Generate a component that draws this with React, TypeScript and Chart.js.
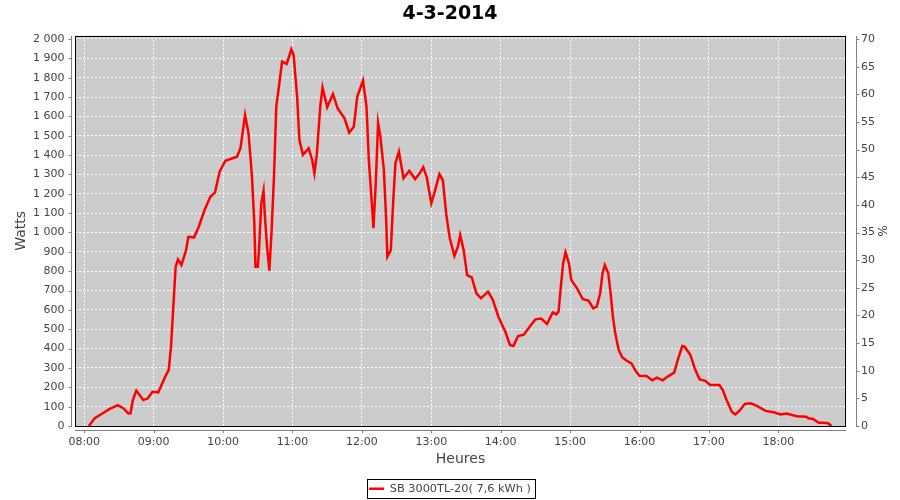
import React, { useEffect, useRef } from 'react';
import { Chart, registerables } from 'chart.js';

Chart.register(...registerables);

const chartTitle = '4-3-2014';
const seriesLabel = 'SB 3000TL-20( 7,6 kWh )';
const xAxisTitle = 'Heures';
const yAxisTitle = 'Watts';
const y2AxisTitle = '%';

const times = [
  '08:04', '08:09', '08:15', '08:22', '08:29', '08:34', '08:38', '08:40', '08:42', '08:45',
  '08:51', '08:55', '08:59', '09:04', '09:10', '09:13', '09:15', '09:17', '09:19', '09:21',
  '09:24', '09:28', '09:30', '09:35', '09:39', '09:44', '09:49', '09:53', '09:57', '10:02',
  '10:12', '10:15', '10:19', '10:22', '10:25', '10:27', '10:28', '10:30', '10:31', '10:33',
  '10:35', '10:36', '10:38', '10:40', '10:42', '10:44', '10:46', '10:49', '10:51', '10:55',
  '10:59', '11:01', '11:04', '11:06', '11:09', '11:14', '11:17', '11:19', '11:21', '11:24',
  '11:26', '11:30', '11:35', '11:39', '11:45', '11:49', '11:53', '11:56', '12:01', '12:04',
  '12:06', '12:09', '12:10', '12:12', '12:14', '12:16', '12:19', '12:21', '12:22', '12:25',
  '12:27', '12:29', '12:32', '12:36', '12:41', '12:46', '12:50', '12:53', '12:56', '13:00',
  '13:03', '13:07', '13:10', '13:13', '13:16', '13:20', '13:23', '13:25', '13:28', '13:31',
  '13:35', '13:39', '13:43', '13:49', '13:53', '13:58', '14:04', '14:08', '14:11', '14:15',
  '14:20', '14:25', '14:30', '14:35', '14:40', '14:45', '14:48', '14:50', '14:52', '14:54',
  '14:56', '14:59', '15:01', '15:06', '15:11', '15:16', '15:20', '15:23', '15:26', '15:28',
  '15:30', '15:33', '15:35', '15:37', '15:39', '15:42', '15:45', '15:49', '15:53', '15:57',
  '16:00', '16:06', '16:11', '16:15', '16:20', '16:25', '16:30', '16:33', '16:37', '16:39',
  '16:44', '16:48', '16:52', '16:57', '17:01', '17:09', '17:12', '17:15', '17:20', '17:23',
  '17:27', '17:31', '17:36', '17:41', '17:49', '17:56', '18:02', '18:07', '18:16', '18:24',
  '18:26', '18:30', '18:35', '18:39', '18:43', '18:46',
];

const watts = [
  0, 40, 62, 88, 108, 91, 65, 66, 134, 183,
  134, 143, 177, 174, 255, 289, 410, 617, 823, 861,
  832, 909, 978, 975, 1030, 1116, 1185, 1206, 1314, 1371,
  1392, 1435, 1607, 1513, 1288, 1047, 823, 823, 901, 1151,
  1216, 1099, 927, 803, 1013, 1288, 1650, 1788, 1883, 1871,
  1947, 1917, 1702, 1478, 1401, 1435, 1375, 1306, 1401, 1650,
  1750, 1647, 1716, 1642, 1590, 1516, 1547, 1702, 1785, 1650,
  1375, 1116, 1022, 1254, 1567, 1495, 1323, 1065, 875, 909,
  1151, 1358, 1418, 1280, 1319, 1276, 1306, 1337, 1288, 1151,
  1211, 1302, 1271, 1090, 970, 879, 927, 987, 909, 780,
  768, 686, 660, 694, 655, 565, 487, 419, 413, 465,
  472, 513, 551, 555, 527, 587, 577, 591, 720, 841,
  898, 841, 755, 711, 655, 648, 608, 617, 686, 789,
  832, 789, 686, 565, 479, 393, 355, 337, 324, 281,
  260, 258, 236, 250, 236, 258, 276, 341, 413, 410,
  367, 293, 241, 233, 212, 212, 186, 138, 71, 60,
  83, 114, 117, 105, 78, 71, 60, 65, 50, 48,
  40, 36, 17, 17, 14, 0,
];

const xTickLabels = ['08:00', '09:00', '10:00', '11:00', '12:00', '13:00', '14:00', '15:00', '16:00', '17:00', '18:00'];
const yTickValues = [0, 100, 200, 300, 400, 500, 600, 700, 800, 900, 1000, 1100, 1200, 1300, 1400, 1500, 1600, 1700, 1800, 1900, 2000];
const yTickLabels = ['0', '100', '200', '300', '400', '500', '600', '700', '800', '900', '1 000', '1 100', '1 200', '1 300', '1 400', '1 500', '1 600', '1 700', '1 800', '1 900', '2 000'];
const pctTickValues = [0, 5, 10, 15, 20, 25, 30, 35, 40, 45, 50, 55, 60, 65, 70];
const pctTickLabels = ['0', '5', '10', '15', '20', '25', '30', '35', '40', '45', '50', '55', '60', '65', '70'];

const xMin = '07:52';
const xMax = '18:58.5';
const yMax = 2017;
const y2Max = 70.6;

const toMin = (t: string) => {
  const [h, m] = t.split(':');
  return Number(h) * 60 + Number(m);
};

const GRAY = '#808080';
const TEXT = '#444444';

const framePlugin = {
  id: 'frame',
  afterLayout(chart: any) {
    const lg = chart.legend;
    if (lg) {
      lg.top += 4.5;
      lg.bottom += 4.5;
    }
  },
  beforeDraw(chart: any) {
    const { ctx, chartArea } = chart;
    ctx.save();
    ctx.fillStyle = '#cccccc';
    ctx.fillRect(chartArea.left, chartArea.top, chartArea.right - chartArea.left, chartArea.bottom - chartArea.top);
    ctx.restore();
  },
  afterDraw(chart: any) {
    const { ctx, chartArea } = chart;
    const L = Math.round(chartArea.left);
    const R = Math.round(chartArea.right);
    const T = Math.round(chartArea.top);
    const B = Math.round(chartArea.bottom);
    ctx.save();
    ctx.lineWidth = 1;
    ctx.strokeStyle = '#000000';
    ctx.strokeRect(L + 0.5, T + 0.5, R - L - 1, B - T);

    ctx.strokeStyle = GRAY;
    const lx = L - 3.5;
    ctx.beginPath();
    ctx.moveTo(lx, T);
    ctx.lineTo(lx, B + 1);
    const ys = chart.scales.y;
    ys.ticks.forEach((t: any) => {
      const py = Math.round(ys.getPixelForValue(t.value)) + 0.5;
      ctx.moveTo(lx - 3, py);
      ctx.lineTo(lx, py);
    });
    const rx = R + 10.5;
    ctx.moveTo(rx, T);
    ctx.lineTo(rx, B + 1);
    const y2 = chart.scales.y2;
    y2.ticks.forEach((t: any) => {
      const py = Math.round(y2.getPixelForValue(t.value)) + 0.5;
      ctx.moveTo(rx, py);
      ctx.lineTo(rx + 3, py);
    });
    const by = B + 4.5;
    ctx.moveTo(L, by);
    ctx.lineTo(R, by);
    const xs = chart.scales.x;
    xs.ticks.forEach((t: any) => {
      const px = Math.round(xs.getPixelForValue(t.value)) + 0.5;
      ctx.moveTo(px, by);
      ctx.lineTo(px, by + 2.5);
    });
    ctx.stroke();

    const lg = chart.legend;
    if (lg && lg.legendHitBoxes && lg.legendHitBoxes[0]) {
      const hb = lg.legendHitBoxes[0];
      const cy = hb.top + hb.height / 2;
      const x0 = Math.round(hb.left - 2.5) + 0.5;
      const x1 = Math.round(hb.left + hb.width + 4.5) + 0.5;
      const y0 = Math.round(cy - 10) + 0.5;
      ctx.strokeStyle = '#000000';
      ctx.strokeRect(x0, y0, x1 - x0, 19);
    }
    ctx.restore();
  },
};

export default function App() {
  const ref = useRef<HTMLCanvasElement | null>(null);

  useEffect(() => {
    if (!ref.current) return;
    Chart.defaults.font.family = "'DejaVu Sans', sans-serif";
    const points = times.map((t, i) => ({ x: toMin(t), y: watts[i] }));
    const chart = new Chart(ref.current, {
      type: 'line',
      data: {
        datasets: [
          {
            label: seriesLabel,
            data: points,
            borderColor: '#ff0000',
            backgroundColor: '#ff0000',
            borderWidth: 2.5,
            pointRadius: 0,
            tension: 0,
            fill: false,
            yAxisID: 'y',
          },
        ],
      },
      options: {
        responsive: false,
        animation: false,
        layout: { padding: 0 },
        plugins: {
          tooltip: { enabled: false },
          title: {
            display: true,
            text: chartTitle,
            color: '#000000',
            font: { size: 19, weight: 'bold' },
            padding: { top: 2.4, bottom: 10.5 },
          },
          legend: {
            display: true,
            position: 'bottom',
            labels: {
              usePointStyle: true,
              pointStyle: 'line',
              pointStyleWidth: 15,
              padding: 0,
              color: TEXT,
              font: { size: 11.3 },
            },
          },
        },
        scales: {
          x: {
            type: 'linear',
            min: toMin(xMin),
            max: toMin(xMax),
            afterBuildTicks: (s: any) => {
              s.ticks = xTickLabels.map((l) => ({ value: toMin(l) }));
            },
            afterFit: (s: any) => {
              const lh = s.chart.legend ? s.chart.legend.height : 21;
              s.height = 500 - 426 - lh;
            },
            ticks: {
              autoSkip: false,
              maxRotation: 0,
              padding: 10,
              color: TEXT,
              font: { size: 11 },
              callback: (v: any) => {
                const i = xTickLabels.findIndex((l) => toMin(l) === v);
                return i >= 0 ? xTickLabels[i] : '';
              },
            },
            grid: { color: '#ffffff', lineWidth: 1, drawTicks: false },
            border: { display: false, dash: [2, 2] },
            title: {
              display: true,
              text: xAxisTitle,
              color: TEXT,
              font: { size: 14 },
              padding: { top: 0, bottom: 10.6 },
            },
          },
          y: {
            type: 'linear',
            position: 'left',
            min: 0,
            max: yMax,
            afterBuildTicks: (s: any) => {
              s.ticks = yTickValues.map((v) => ({ value: v }));
            },
            afterFit: (s: any) => {
              s.width = 75;
            },
            ticks: {
              autoSkip: false,
              padding: 10.5,
              color: TEXT,
              font: { size: 11 },
              callback: (v: any) => {
                const i = yTickValues.indexOf(v);
                return i >= 0 ? yTickLabels[i] : '';
              },
            },
            grid: { color: '#ffffff', lineWidth: 1, drawTicks: false },
            border: { display: false, dash: [2, 2] },
            title: {
              display: true,
              text: yAxisTitle,
              color: TEXT,
              font: { size: 14 },
              padding: { top: 12.6, bottom: 0 },
            },
          },
          y2: {
            type: 'linear',
            position: 'right',
            min: 0,
            max: y2Max,
            afterBuildTicks: (s: any) => {
              s.ticks = pctTickValues.map((v) => ({ value: v }));
            },
            afterFit: (s: any) => {
              s.width = 54;
            },
            ticks: {
              autoSkip: false,
              padding: 15,
              color: TEXT,
              font: { size: 11 },
              callback: (v: any) => {
                const i = pctTickValues.indexOf(v);
                return i >= 0 ? pctTickLabels[i] : '';
              },
            },
            grid: { display: false, drawTicks: false },
            border: { display: false },
            title: {
              display: true,
              text: y2AxisTitle,
              color: TEXT,
              font: { size: 12 },
              padding: { top: 11.5, bottom: 0 },
            },
          },
        },
      },
      plugins: [framePlugin],
    } as any);
    return () => chart.destroy();
  }, []);

  return (
    <div style={{ position: 'absolute', left: 0, top: 0, width: 900, height: 500, background: '#ffffff' }}>
      <canvas ref={ref} width={900} height={500} style={{ width: 900, height: 500, display: 'block' }} />
    </div>
  );
}
